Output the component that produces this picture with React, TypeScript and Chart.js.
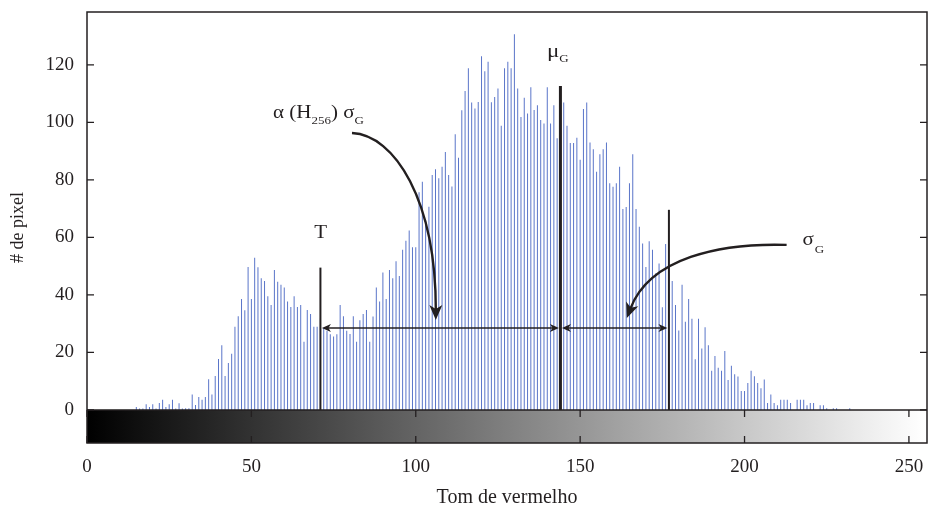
import React, { useEffect, useRef } from 'react';
import { Chart, registerables } from 'chart.js';
Chart.register(...registerables);

// histogram of red tones (# de pixel per tone 0..255)
const counts: number[] = [
  0, 0, 0, 0, 0, 0, 0, 0, 0, 0, 0, 0, 0, 0, 0, 1, 0.5, 0.5, 2, 1,
  2, 0.5, 2.4, 3.5, 1, 2, 3.5, 0.5, 2.3, 0.5, 0.6, 0.6, 5.4, 1.7, 4.5, 3.5, 4.5, 10.7, 5.4, 11.8,
  17.7, 22.5, 11.8, 16.3, 19.5, 28.9, 32.6, 38.6, 34.7, 49.7, 38.6, 52.9, 49.6, 45.8, 44.8, 39.5, 36.5, 48.7, 44.6, 43.5,
  42.6, 37.7, 35.8, 39.5, 35.8, 36.5, 23.7, 34.8, 33.4, 28.9, 28.9, 31.9, 28.6, 27.5, 26.3, 25.5, 26.3, 36.5, 32.6, 27.5,
  26.4, 32.6, 23.7, 31.2, 33.4, 34.8, 23.7, 32.5, 42.6, 37.7, 47.8, 38.6, 48.7, 45.8, 51.7, 46.6, 55.7, 58.8, 62.4, 56.6,
  56.6, 75.7, 79.4, 66, 70.7, 81.7, 83.7, 80.6, 84.6, 89.7, 81.7, 77.7, 95.9, 87.7, 104.2, 110.9, 118.8, 106.9, 104.8, 107.1,
  123, 117.8, 121.1, 107, 108.8, 111.8, 98.8, 118.8, 121.1, 118.8, 130.7, 111.8, 101.9, 108.6, 103.1, 112.2, 104.3, 106, 100.8, 99.6,
  112.2, 99.6, 106, 94.5, 100, 106.9, 98.8, 92.8, 92.8, 94.7, 87, 104.7, 106.9, 93, 90.7, 82.8, 88.9, 90.7, 93, 78.8,
  77.6, 78.8, 84.6, 69.9, 70.6, 78.8, 88.9, 69.9, 63.7, 57.9, 49.7, 58.7, 55.7, 47.5, 50.9, 35.7, 57.7, 50, 44.8, 36.5,
  27.6, 43.5, 30.7, 38.6, 31.7, 17.6, 31.7, 21.4, 28.8, 22.5, 13.6, 18.8, 14.7, 13.6, 20.5, 10.4, 15.4, 12.4, 11.6, 6.6,
  6.6, 9.4, 13.6, 11.7, 9.4, 7.5, 10.6, 2.4, 5.4, 2.4, 1.6, 3.5, 3.5, 3.5, 2.4, 0, 3.5, 3.5, 3.5, 1.6,
  2.4, 2.4, 0, 1.6, 1.6, 0.6, 0, 0.6, 0.6, 0, 0, 0, 0.6, 0, 0, 0, 0, 0, 0, 0,
  0, 0, 0, 0, 0, 0, 0, 0, 0, 0, 0, 0, 0, 0, 0, 0,
];
const tones: number[] = counts.map((_, i) => i);

const xTicks = [0, 50, 100, 150, 200, 250];
const yTicks = [0, 20, 40, 60, 80, 100, 120];

// vertical markers: T, mu_G, mu_G + sigma_G
const markerX = [71, 144, 177];
const markerTop = [49.5, 112.7, 69.6];

// horizontal double arrows level
const arrowLevel = 28.5;

// curved arrows (data coordinates: start, control1, control2, end)
const curveA = [[80.6, 96.3], [93.6, 95.6], [106.1, 73.0], [106.1, 31.3]];
const curveB = [[212.8, 57.4], [192.5, 58.1], [171.2, 52.9], [164.2, 32.0]];

// label anchors (data coordinates)
const alphaLabelPos = [56.6, 101.5];
const tLabelPos = [71.1, 59.8];
const muLabelPos = [139.9, 122.8];
const sigmaLabelPos = [217.6, 57.4];

const INK = '#231f20';
const SERIF = "'Liberation Serif', 'Times New Roman', serif";
const SQ = 0.85;

function drawText(ctx: CanvasRenderingContext2D, s: string, x: number, y: number, size: number, align: CanvasTextAlign = 'left') {
  ctx.save();
  ctx.font = `${size}px ${SERIF}`;
  const w = ctx.measureText(s).width;
  ctx.translate(x, y);
  ctx.scale(1, SQ);
  ctx.textAlign = align;
  ctx.textBaseline = 'alphabetic';
  ctx.fillStyle = INK;
  ctx.fillText(s, 0, 0);
  ctx.restore();
  return w;
}

function arrowHead(ctx: CanvasRenderingContext2D, tx: number, ty: number, ang: number, len: number, hw: number, notch: number) {
  ctx.save();
  ctx.translate(tx, ty);
  ctx.rotate(ang);
  ctx.beginPath();
  ctx.moveTo(0, 0);
  ctx.lineTo(-len, -hw);
  ctx.lineTo(-len + notch, 0);
  ctx.lineTo(-len, hw);
  ctx.closePath();
  ctx.fillStyle = INK;
  ctx.fill();
  ctx.restore();
}

const overlay = {
  id: 'overlay',
  beforeDatasetsDraw(chart: any) {
    const { ctx, chartArea: a, scales } = chart;
    const x = scales.x, y = scales.y;
    const y0 = y.getPixelForValue(0);
    const xs = x.getPixelForValue(0);
    const xe = x.getPixelForValue(255);
    const g = ctx.createLinearGradient(xs, 0, xe, 0);
    g.addColorStop(0, '#000000');
    g.addColorStop(1, '#ffffff');
    ctx.save();
    ctx.fillStyle = g;
    ctx.fillRect(xs, y0, a.right - xs, a.bottom - y0);
    ctx.restore();
  },
  afterDatasetsDraw(chart: any) {
    const { ctx, chartArea: a, scales } = chart;
    const x = scales.x, y = scales.y;
    const px = (v: number) => x.getPixelForValue(v);
    const py = (v: number) => y.getPixelForValue(v);
    const y0 = py(0);
    ctx.save();
    ctx.strokeStyle = INK;
    ctx.lineCap = 'butt';

    // vertical markers
    const widths = [2, 3, 2];
    markerX.forEach((m, i) => {
      ctx.lineWidth = widths[i];
      ctx.beginPath();
      ctx.moveTo(px(m), y0);
      ctx.lineTo(px(m), py(markerTop[i]));
      ctx.stroke();
    });

    // horizontal double arrows
    const ay = py(arrowLevel);
    const pairs = [[markerX[0], markerX[1]], [markerX[1], markerX[2]]];
    pairs.forEach(([l, r]) => {
      const xl = px(l) + 1.5, xr = px(r) - 1.5;
      ctx.lineWidth = 1.6;
      ctx.beginPath();
      ctx.moveTo(xl + 4, ay);
      ctx.lineTo(xr - 4, ay);
      ctx.stroke();
      arrowHead(ctx, xl, ay, Math.PI, 9, 4, 2.5);
      arrowHead(ctx, xr, ay, 0, 9, 4, 2.5);
    });

    // curved arrows
    [curveA, curveB].forEach((c) => {
      const p = c.map(([vx, vy]) => [px(vx), py(vy)]);
      const ang = Math.atan2(p[3][1] - p[2][1], p[3][0] - p[2][0]);
      const back = 10;
      const ex = p[3][0] - Math.cos(ang) * back;
      const ey = p[3][1] - Math.sin(ang) * back;
      ctx.lineWidth = 2.4;
      ctx.beginPath();
      ctx.moveTo(p[0][0], p[0][1]);
      ctx.bezierCurveTo(p[1][0], p[1][1], p[2][0], p[2][1], ex, ey);
      ctx.stroke();
      arrowHead(ctx, p[3][0], p[3][1], ang, 15, 6.5, 4);
    });

    // baseline at zero and frame
    ctx.lineWidth = 1.5;
    ctx.beginPath();
    ctx.moveTo(a.left, y0);
    ctx.lineTo(a.right, y0);
    ctx.stroke();
    ctx.strokeRect(a.left, a.top, a.right - a.left, a.bottom - a.top);

    // inward ticks
    ctx.lineWidth = 1.3;
    y.ticks.forEach((t: any) => {
      const yy = py(t.value);
      ctx.beginPath();
      ctx.moveTo(a.left, yy); ctx.lineTo(a.left + 7, yy);
      ctx.moveTo(a.right, yy); ctx.lineTo(a.right - 7, yy);
      ctx.stroke();
    });
    x.ticks.forEach((t: any) => {
      const xx = px(t.value);
      ctx.beginPath();
      ctx.moveTo(xx, y0); ctx.lineTo(xx, y0 + 7);
      ctx.moveTo(xx, a.bottom); ctx.lineTo(xx, a.bottom - 7);
      ctx.stroke();
    });
    ctx.restore();

    // annotation texts
    let cx = px(alphaLabelPos[0]);
    const by = py(alphaLabelPos[1]);
    cx += drawText(ctx, 'α (H', cx, by, 21);
    cx += drawText(ctx, '256', cx, by + 6, 13);
    cx += drawText(ctx, ') σ', cx, by, 21);
    drawText(ctx, 'G', cx, by + 6, 13);

    drawText(ctx, 'T', px(tLabelPos[0]), py(tLabelPos[1]), 21, 'center');

    let mx = px(muLabelPos[0]);
    const my = py(muLabelPos[1]);
    mx += drawText(ctx, 'μ', mx, my, 23);
    drawText(ctx, 'G', mx, my + 5, 13);

    let sx = px(sigmaLabelPos[0]);
    const sy = py(sigmaLabelPos[1]);
    sx += drawText(ctx, 'σ', sx, sy, 21);
    drawText(ctx, 'G', sx + 1, sy + 8, 13);
  },
};

export default function App() {
  const ref = useRef<HTMLCanvasElement | null>(null);
  useEffect(() => {
    if (!ref.current) return;
    const chart = new Chart(ref.current, {
      type: 'bar',
      data: {
        datasets: [
          {
            data: tones.map((t, i) => ({ x: t, y: counts[i] })),
            backgroundColor: '#5a75c9',
            barThickness: 1,
            inflateAmount: 0,
            grouped: false,
          } as any,
        ],
      },
      options: {
        animation: false,
        responsive: false,
        events: [],
        layout: { padding: { top: 12, right: 3, left: 0, bottom: 0 } },
        plugins: { legend: { display: false }, tooltip: { enabled: false } },
        scales: {
          x: {
            type: 'linear',
            min: 0,
            max: 255.5,
            offset: false,
            grid: { display: false, drawTicks: false, offset: false },
            border: { display: false },
            afterBuildTicks: (s: any) => { s.ticks = xTicks.map((v) => ({ value: v })); },
            afterFit: (s: any) => { s.height = 68; s.paddingLeft = 0; s.paddingRight = 0; },
            ticks: {
              color: INK,
              font: { family: SERIF, size: 19 },
              padding: 13,
              maxRotation: 0,
              autoSkip: false,
            },
            title: {
              display: true,
              text: 'Tom de vermelho',
              color: INK,
              font: { family: SERIF, size: 20 },
              padding: { top: 0, bottom: 1 },
            },
          },
          y: {
            type: 'linear',
            min: -11.5,
            max: 138.4,
            grid: { display: false, drawTicks: false },
            border: { display: false },
            afterBuildTicks: (s: any) => { s.ticks = yTicks.map((v) => ({ value: v })); },
            afterFit: (s: any) => { s.width = 87; s.paddingTop = 0; s.paddingBottom = 0; },
            ticks: {
              color: INK,
              font: { family: SERIF, size: 19 },
              padding: 13,
              autoSkip: false,
            },
            title: {
              display: true,
              text: '# de pixel',
              color: INK,
              font: { family: SERIF, size: 18 },
              padding: { top: 7, bottom: 0 },
            },
          },
        },
      } as any,
      plugins: [overlay],
    });
    return () => chart.destroy();
  }, []);
  return (
    <div style={{ position: 'fixed', left: 0, top: 0, width: 930, height: 511, background: '#fff' }}>
      <canvas ref={ref} width={930} height={511} style={{ width: 930, height: 511 }} />
    </div>
  );
}
